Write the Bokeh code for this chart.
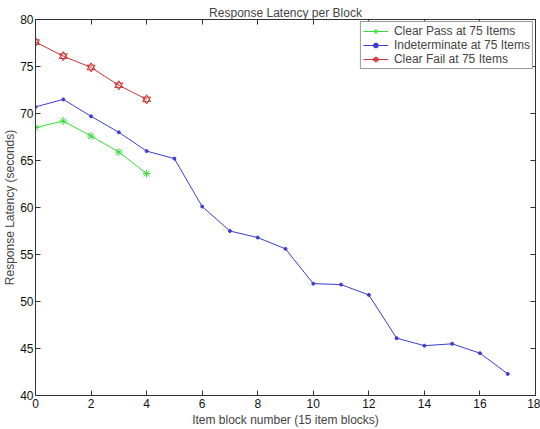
from bokeh.plotting import figure
from bokeh.models import Range1d, LinearAxis, FixedTicker, Legend, LegendItem
from bokeh.embed import file_html
from bokeh.resources import INLINE

blocks_short = [0, 1, 2, 3, 4]
clear_pass = [68.5, 69.2, 67.6, 65.9, 63.6]
clear_fail = [77.6, 76.1, 74.9, 73.0, 71.5]
blocks_all = list(range(18))
indeterminate = [70.7, 71.5, 69.7, 68.0, 66.0, 65.2, 60.1, 57.5, 56.8, 55.6,
                 51.9, 51.8, 50.7, 46.1, 45.3, 45.5, 44.5, 42.3]
x_ticks = list(range(0, 19, 2))
y_ticks = list(range(40, 81, 5))

FONT = "Liberation Sans"

p = figure(width=540, height=429, output_backend="svg", toolbar_location=None,
           x_range=Range1d(0, 18), y_range=Range1d(40, 80),
           min_border_left=33, min_border_right=5, min_border_top=19,
           min_border_bottom=31, x_axis_location=None, y_axis_location=None)
p.title.text = "Response Latency per Block"
p.title.align = "center"
p.title.text_font = FONT
p.title.text_font_size = "12px"
p.title.text_font_style = "normal"
p.title.offset = 0
p.title.standoff = 0
p.xgrid.visible = False
p.ygrid.visible = False
p.outline_line_color = "#333333"
p.background_fill_color = "white"
p.border_fill_color = "white"

def style(ax, labels=True):
    ax.axis_line_color = "#333333"
    ax.major_tick_line_color = "#333333"
    ax.major_tick_in = 5
    ax.major_tick_out = 0
    ax.minor_tick_line_color = None
    ax.major_label_text_font = FONT
    ax.axis_label_text_font = FONT
    ax.axis_label_text_font_size = "12px"
    ax.axis_label_text_font_style = "normal"
    if labels:
        ax.major_label_text_font_size = "12px"
        ax.major_label_text_color = "#111111"
        ax.major_label_standoff = 2
        ax.axis_label_standoff = 0
    else:
        ax.major_label_text_font_size = "1px"
        ax.major_label_text_color = None
        ax.major_label_standoff = 0
        ax.axis_label_standoff = 0

xb = LinearAxis(ticker=FixedTicker(ticks=x_ticks), axis_label="Item block number (15 item blocks)")
style(xb)
xb.major_label_standoff = 3
xb.axis_label_standoff = 2
p.add_layout(xb, "below")
yl = LinearAxis(ticker=FixedTicker(ticks=y_ticks), axis_label="Response Latency (seconds)")
style(yl)
p.add_layout(yl, "left")
xt = LinearAxis(ticker=FixedTicker(ticks=x_ticks))
style(xt, labels=False)
p.add_layout(xt, "above")
yr = LinearAxis(ticker=FixedTicker(ticks=y_ticks))
style(yr, labels=False)
p.add_layout(yr, "right")

GREEN = "#33dd33"
BLUE = "#3c3cd2"
RED = "#cc3333"

g_l = p.line(blocks_short, clear_pass, line_color=GREEN, line_width=1)
g_m = p.scatter(blocks_short, clear_pass, marker="asterisk", size=8, line_color=GREEN)
b_l = p.line(blocks_all, indeterminate, line_color=BLUE, line_width=1)
b_m = p.scatter(blocks_all, indeterminate, marker="circle", size=3, fill_color=BLUE, line_color=BLUE)
r_l = p.line(blocks_short, clear_fail, line_color=RED, line_width=1)
r_m1 = p.scatter(blocks_short, clear_fail, marker="triangle", size=8, fill_color=None, line_color=RED)
r_m2 = p.scatter(blocks_short, clear_fail, marker="inverted_triangle", size=8, fill_color=None, line_color=RED)

legend = Legend(items=[
    LegendItem(label="Clear Pass at 75 Items", renderers=[g_l, g_m]),
    LegendItem(label="Indeterminate at 75 Items", renderers=[b_l, b_m]),
    LegendItem(label="Clear Fail at 75 Items", renderers=[r_l, r_m1, r_m2]),
], location="top_right")
legend.label_text_font = FONT
legend.label_text_font_size = "12px"
legend.label_height = 12
legend.glyph_height = 12
legend.glyph_width = 25
legend.label_standoff = 6
legend.spacing = 0
legend.padding = 2
legend.margin = 2
legend.border_line_color = "#333333"
legend.background_fill_alpha = 1
p.add_layout(legend, "center")

open("out.html", "w").write(file_html(p, INLINE))
